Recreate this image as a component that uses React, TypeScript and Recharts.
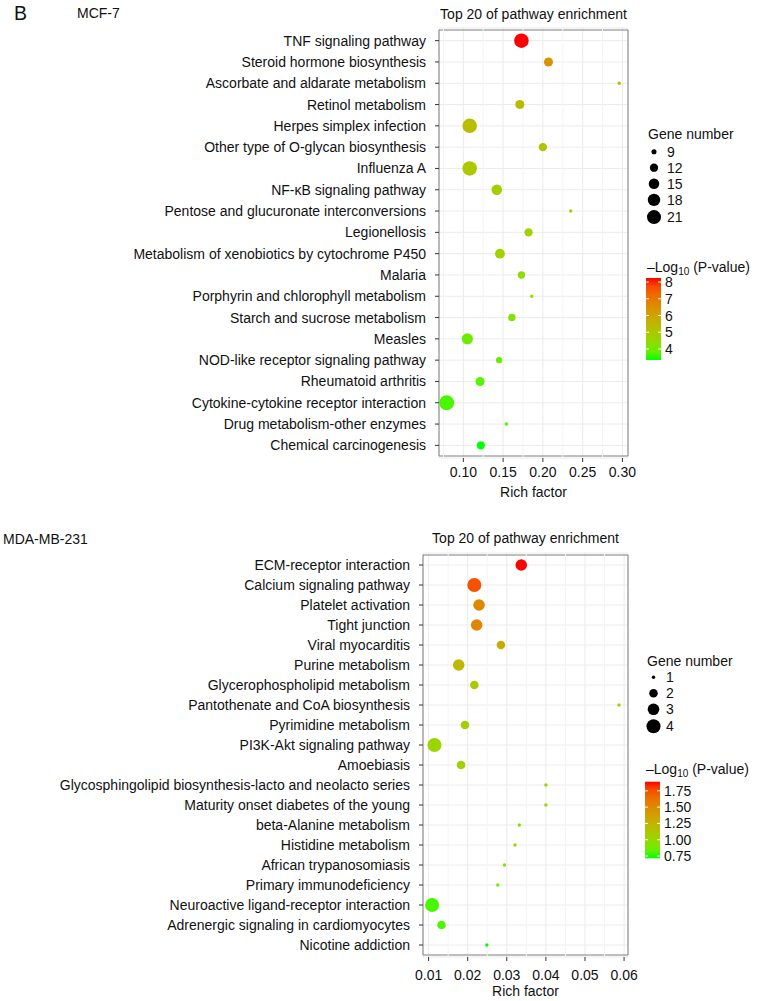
import React from 'react';
import { ScatterChart, Scatter, XAxis, YAxis, ZAxis, CartesianGrid, ReferenceLine, ReferenceArea, Cell } from 'recharts';

// MCF-7 panel (top to bottom as in the figure)
const mcfPathways = [
  'TNF signaling pathway',
  'Steroid hormone biosynthesis',
  'Ascorbate and aldarate metabolism',
  'Retinol metabolism',
  'Herpes simplex infection',
  'Other type of O-glycan biosynthesis',
  'Influenza A',
  'NF-κB signaling pathway',
  'Pentose and glucuronate interconversions',
  'Legionellosis',
  'Metabolism of xenobiotics by cytochrome P450',
  'Malaria',
  'Porphyrin and chlorophyll metabolism',
  'Starch and sucrose metabolism',
  'Measles',
  'NOD-like receptor signaling pathway',
  'Rheumatoid arthritis',
  'Cytokine-cytokine receptor interaction',
  'Drug metabolism-other enzymes',
  'Chemical carcinogenesis',
];
const mcfRichFactor = [0.173, 0.207, 0.296, 0.171, 0.108, 0.2, 0.108, 0.142, 0.235, 0.182, 0.146, 0.173, 0.186, 0.161, 0.105, 0.145, 0.121, 0.079, 0.154, 0.122];
const mcfGeneNumber = [22, 13, 8, 13, 22, 12, 22, 15, 8, 12, 14, 11, 8, 11, 16, 10, 13, 23, 8, 12];
const mcfLogP = [8.24, 6.4, 5.4, 5.4, 5.3, 5.1, 5.0, 4.8, 4.8, 4.7, 4.7, 4.4, 4.4, 4.2, 3.9, 3.9, 3.7, 3.6, 3.6, 3.34];
const mcfTicks = [0.1, 0.15, 0.2, 0.25, 0.3];
const mcfMinorTicks = [0.075, 0.125, 0.175, 0.225, 0.275];
const mcfSizeBreaks = [9, 12, 15, 18, 21];
const mcfColorBreaks = [8, 7, 6, 5, 4];

// MDA-MB-231 panel
const mdaPathways = [
  'ECM-receptor interaction',
  'Calcium signaling pathway',
  'Platelet activation',
  'Tight junction',
  'Viral myocarditis',
  'Purine metabolism',
  'Glycerophospholipid metabolism',
  'Pantothenate and CoA biosynthesis',
  'Pyrimidine metabolism',
  'PI3K-Akt signaling pathway',
  'Amoebiasis',
  'Glycosphingolipid biosynthesis-lacto and neolacto series',
  'Maturity onset diabetes of the young',
  'beta-Alanine metabolism',
  'Histidine metabolism',
  'African trypanosomiasis',
  'Primary immunodeficiency',
  'Neuroactive ligand-receptor interaction',
  'Adrenergic signaling in cardiomyocytes',
  'Nicotine addiction',
];
const mdaRichFactor = [0.0337, 0.0217, 0.0229, 0.0223, 0.0285, 0.0177, 0.0217, 0.0587, 0.0193, 0.0115, 0.0183, 0.04, 0.04, 0.0332, 0.0321, 0.0294, 0.0277, 0.0109, 0.0133, 0.0249];
const mdaGeneNumber = [3, 4, 3, 3, 2, 3, 2, 1, 2, 4, 2, 1, 1, 1, 1, 1, 1, 4, 2, 1];
const mdaLogP = [1.89, 1.75, 1.51, 1.52, 1.3, 1.21, 1.09, 1.07, 1.07, 1.02, 1.04, 1.0, 1.0, 0.95, 0.95, 0.93, 0.9, 0.77, 0.78, 0.715];
const mdaTicks = [0.01, 0.02, 0.03, 0.04, 0.05, 0.06];
const mdaMinorTicks = [0.015, 0.025, 0.035, 0.045, 0.055];
const mdaSizeBreaks = [1, 2, 3, 4];
const mdaColorBreaks = [1.75, 1.5, 1.25, 1.0, 0.75];

const FONT = '"Liberation Sans", Arial, Helvetica, sans-serif';
const TEXT = '#111';

// green -> red gradient interpolated in Lab, like ggplot's scale_colour_gradient
const toLin = (c: number) => {
  const v = c / 255;
  return v <= 0.04045 ? v / 12.92 : Math.pow((v + 0.055) / 1.055, 2.4);
};
const fromLin = (v: number) => {
  const c = v <= 0.0031308 ? 12.92 * v : 1.055 * Math.pow(v, 1 / 2.4) - 0.055;
  return Math.round(Math.min(1, Math.max(0, c)) * 255);
};
const WX = 0.95047, WY = 1, WZ = 1.08883;
const f = (t: number) => (t > 0.008856 ? Math.cbrt(t) : 7.787 * t + 16 / 116);
const fi = (t: number) => (t * t * t > 0.008856 ? t * t * t : (t - 16 / 116) / 7.787);
function rgbToLab(rgb: number[]) {
  const [r, g, b] = rgb.map(toLin);
  const x = (0.4124 * r + 0.3576 * g + 0.1805 * b) / WX;
  const y = (0.2126 * r + 0.7152 * g + 0.0722 * b) / WY;
  const z = (0.0193 * r + 0.1192 * g + 0.9505 * b) / WZ;
  return [116 * f(y) - 16, 500 * (f(x) - f(y)), 200 * (f(y) - f(z))];
}
function labToHex(lab: number[]) {
  const fy = (lab[0] + 16) / 116;
  const x = fi(fy + lab[1] / 500) * WX;
  const y = fi(fy) * WY;
  const z = fi(fy - lab[2] / 200) * WZ;
  const r = 3.2406 * x - 1.5372 * y - 0.4986 * z;
  const g = -0.9689 * x + 1.8758 * y + 0.0415 * z;
  const b = 0.0557 * x - 0.204 * y + 1.057 * z;
  return '#' + [r, g, b].map((v) => fromLin(v).toString(16).padStart(2, '0')).join('');
}
const LOW = rgbToLab([0, 255, 0]);
const HIGH = rgbToLab([255, 0, 0]);
const colorAt = (t: number) => labToHex(LOW.map((l, i) => l + (HIGH[i] - l) * t));

type PanelCfg = {
  id: string;
  title: string;
  cell: string;
  pathways: string[];
  rich: number[];
  genes: number[];
  logP: number[];
  ticks: number[];
  minorTicks: number[];
  sizeBreaks: number[];
  colorBreaks: number[];
  domain: [number, number];
  zDomain: [number, number];
  zRange: [number, number];
  top: number;
  height: number;
  margin: { top: number; right: number; bottom: number; left: number };
  yWidth: number;
  xHeight: number;
  xTickMargin: number;
  labelOffset: number;
  titleX: number;
  titleY: number;
  cellX: number;
  cellY: number;
  legend: { x: number; geneY: number; sizeY: number; cx: number; labelX: number; colY: number; barY: number; barH: number };
};

const panels: PanelCfg[] = [
  {
    id: 'mcf',
    title: 'Top 20 of pathway enrichment',
    cell: 'MCF-7',
    pathways: mcfPathways,
    rich: mcfRichFactor,
    genes: mcfGeneNumber,
    logP: mcfLogP,
    ticks: mcfTicks,
    minorTicks: mcfMinorTicks,
    sizeBreaks: mcfSizeBreaks,
    colorBreaks: mcfColorBreaks,
    domain: [0.0694, 0.307],
    zDomain: [8, 23],
    zRange: [Math.PI * 1.7 * 1.7, Math.PI * 7.5 * 7.5],
    top: 0,
    height: 505,
    margin: { top: 28, right: 137, bottom: 5, left: 0 },
    yWidth: 439,
    xHeight: 42,
    xTickMargin: 5,
    labelOffset: 3,
    titleX: 533.5,
    titleY: 19,
    cellX: 77,
    cellY: 17.5,
    legend: { x: 648, geneY: 138.5, sizeY: 151.7, cx: 654, labelX: 667, colY: 271.5, barY: 278, barH: 82 },
  },
  {
    id: 'mda',
    title: 'Top 20 of pathway enrichment',
    cell: 'MDA-MB-231',
    pathways: mdaPathways,
    rich: mdaRichFactor,
    genes: mdaGeneNumber,
    logP: mdaLogP,
    ticks: mdaTicks,
    minorTicks: mdaMinorTicks,
    sizeBreaks: mdaSizeBreaks,
    colorBreaks: mdaColorBreaks,
    domain: [0.00857, 0.061],
    zDomain: [1, 4],
    zRange: [Math.PI * 1.7 * 1.7, Math.PI * 7 * 7],
    top: 520,
    height: 481,
    margin: { top: 33, right: 137, bottom: 4, left: 0 },
    yWidth: 423,
    xHeight: 40,
    xTickMargin: 9,
    labelOffset: 1,
    titleX: 525.5,
    titleY: 543,
    cellX: 3,
    cellY: 544,
    legend: { x: 647, geneY: 665.5, sizeY: 677.3, cx: 653.5, labelX: 666, colY: 774, barY: 781.7, barH: 76.6 },
  },
];

function Panel({ cfg }: { cfg: PanelCfg }) {
  const rows = cfg.pathways.map((p, i) => ({ pathway: p, rich: cfg.rich[i], genes: cfg.genes[i], logP: cfg.logP[i] }));
  const lo = Math.min(...cfg.logP);
  const hi = Math.max(...cfg.logP);
  return (
    <div style={{ position: 'absolute', left: 0, top: cfg.top }}>
      <ScatterChart width={765} height={cfg.height} margin={cfg.margin}>
        <CartesianGrid stroke="#ebebeb" />
        {cfg.minorTicks.map((v) => (
          <ReferenceLine key={v} x={v} stroke="#f4f4f4" strokeWidth={1} />
        ))}
        <XAxis
          type="number"
          dataKey="rich"
          domain={cfg.domain}
          ticks={cfg.ticks}
          allowDataOverflow
          tickFormatter={(v: number) => v.toFixed(2)}
          height={cfg.xHeight}
          tickSize={4}
          tickMargin={cfg.xTickMargin}
          axisLine={false}
          tickLine={{ stroke: '#333' }}
          tick={{ fill: TEXT, fontSize: 14 }}
          label={{ value: 'Rich factor', position: 'insideBottom', offset: cfg.labelOffset, fill: TEXT, fontSize: 14 }}
        />
        <YAxis
          type="category"
          dataKey="pathway"
          width={cfg.yWidth}
          reversed
          interval={0}
          allowDuplicatedCategory={false}
          padding={{ top: 2, bottom: 2 }}
          tickSize={4}
          tickMargin={9}
          axisLine={false}
          tickLine={{ stroke: '#333' }}
          tick={{ fill: TEXT, fontSize: 14 }}
        />
        <ZAxis type="number" dataKey="genes" domain={cfg.zDomain} range={cfg.zRange} />
        <ReferenceArea x1={cfg.domain[0]} x2={cfg.domain[1]} fill="none" stroke="#7f7f7f" strokeWidth={1} ifOverflow="visible" />
        <Scatter data={rows} isAnimationActive={false}>
          {rows.map((r, i) => (
            <Cell key={i} fill={colorAt((r.logP - lo) / (hi - lo))} />
          ))}
        </Scatter>
      </ScatterChart>
    </div>
  );
}

function Legends({ cfg }: { cfg: PanelCfg }) {
  const L = cfg.legend;
  const lo = Math.min(...cfg.logP);
  const hi = Math.max(...cfg.logP);
  const [d0, d1] = cfg.zDomain;
  const [a0, a1] = cfg.zRange;
  const rOf = (g: number) => Math.sqrt((a0 + ((g - d0) / (d1 - d0)) * (a1 - a0)) / Math.PI);
  const heights = cfg.sizeBreaks.map((g) => Math.max(16, 2 * rOf(g) + 4));
  const centers: number[] = [];
  cfg.sizeBreaks.forEach((_, i) => {
    centers.push(i === 0 ? L.sizeY : centers[i - 1] + (heights[i - 1] + heights[i]) / 2);
  });
  const perUnit = L.barH / (hi - lo);
  const stops = Array.from({ length: 11 }, (_, i) => i / 10);
  return (
    <g>
      <text x={cfg.titleX} y={cfg.titleY} textAnchor="middle" fontSize={14} fill={TEXT}>{cfg.title}</text>
      <text x={cfg.cellX} y={cfg.cellY} fontSize={14} fill={TEXT}>{cfg.cell}</text>
      <text x={L.x} y={L.geneY} fontSize={14} fill={TEXT}>Gene number</text>
      {cfg.sizeBreaks.map((g, i) => (
        <g key={g}>
          <circle cx={L.cx} cy={centers[i]} r={rOf(g)} fill="#000" />
          <text x={L.labelX} y={centers[i]} dy="0.36em" fontSize={14} fill={TEXT}>{g}</text>
        </g>
      ))}
      <text x={L.x - 1} y={L.colY} fontSize={14} fill={TEXT}>
        –Log<tspan fontSize={10} dy={3}>10</tspan><tspan dy={-3}> (P-value)</tspan>
      </text>
      <defs>
        <linearGradient id={`grad-${cfg.id}`} x1="0" y1="1" x2="0" y2="0">
          {stops.map((t) => (
            <stop key={t} offset={t} stopColor={colorAt(t)} />
          ))}
        </linearGradient>
      </defs>
      <rect x={L.x - 2} y={L.barY} width={15} height={L.barH} fill={`url(#grad-${cfg.id})`} />
      {cfg.colorBreaks.map((v) => {
        const y = L.barY + (hi - v) * perUnit;
        return (
          <g key={v}>
            <line x1={L.x - 2} x2={L.x + 1} y1={y} y2={y} stroke="#fff" strokeWidth={1} />
            <line x1={L.x + 10} x2={L.x + 13} y1={y} y2={y} stroke="#fff" strokeWidth={1} />
            <text x={L.x + 17} y={y} dy="0.36em" fontSize={14} fill={TEXT}>
              {cfg.id === 'mcf' ? v : v.toFixed(2)}
            </text>
          </g>
        );
      })}
    </g>
  );
}

export default function App() {
  return (
    <div style={{ position: 'absolute', left: 0, top: 0, width: 765, height: 1001, background: '#fff', fontFamily: FONT, overflow: 'hidden' }}>
      {panels.map((p) => (
        <Panel key={p.id} cfg={p} />
      ))}
      <svg width={765} height={1001} style={{ position: 'absolute', left: 0, top: 0, pointerEvents: 'none', fontFamily: FONT }}>
        <text x={14} y={20} fontSize={19.5} fill={TEXT}>B</text>
        {panels.map((p) => (
          <Legends key={p.id} cfg={p} />
        ))}
      </svg>
    </div>
  );
}
